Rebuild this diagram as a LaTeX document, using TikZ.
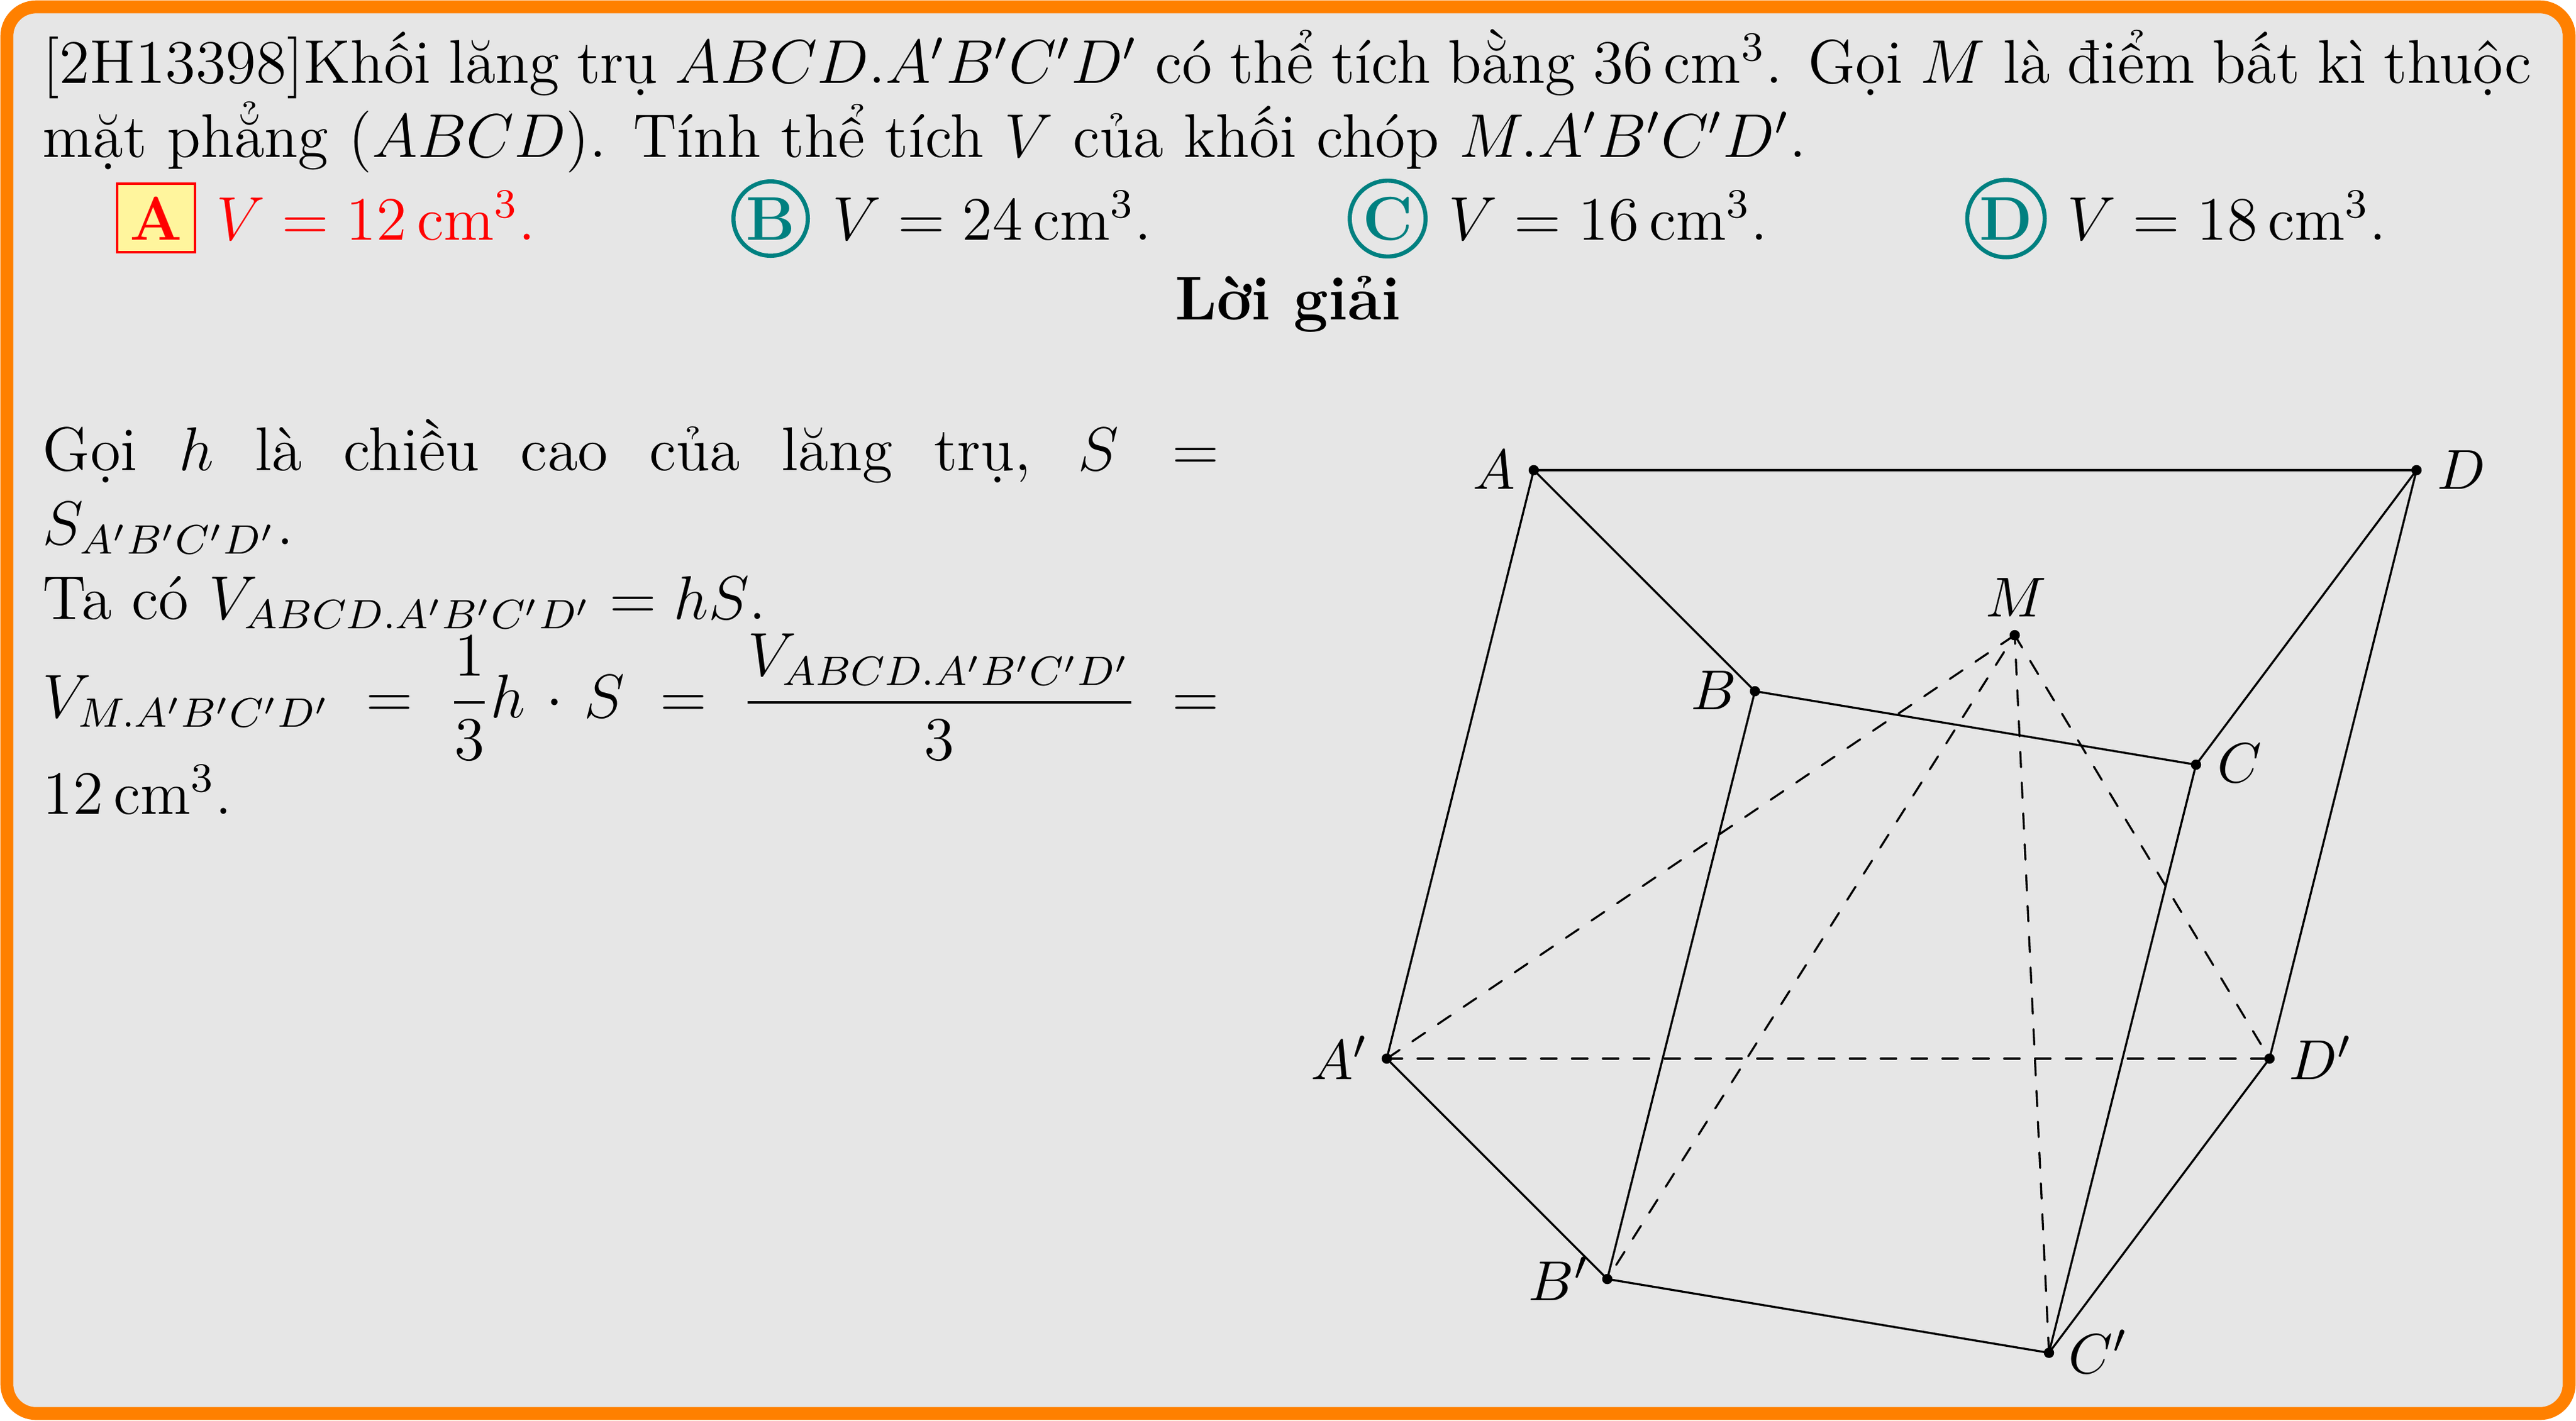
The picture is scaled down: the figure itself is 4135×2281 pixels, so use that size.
\documentclass[tikz,border=0pt,12pt]{standalone}
\usepackage{amsmath}
\definecolor{frameorange}{HTML}{FF8000}
\definecolor{panelgray}{HTML}{E6E6E6}
\definecolor{tealc}{HTML}{008080}
\definecolor{yellowbox}{HTML}{FFF59D}
\newcommand{\cmc}{\,\mathrm{cm}^3}
\begin{document}
\begin{tikzpicture}[x=0.12108pt,y=-0.12108pt,
  txt/.style={inner sep=0pt,outer sep=0pt,anchor=base west},
  lab/.style={inner sep=0pt,outer sep=0pt,font=\small,anchor=base},
  ptdot/.style={circle,fill=black,inner sep=0pt,minimum size=2pt},
  edge/.style={line width=0.4pt,black,line cap=round},
  hidden/.style={line width=0.4pt,black,line cap=round,dash pattern=on 3pt off 3pt},
  gapfirst/.style={hidden,dash phase=2.75pt},
  tealcirc/.style={circle,draw=tealc,line width=0.8pt,text=tealc,font=\bfseries,inner sep=0.65pt,anchor=base},
  ansbox/.style={draw=red,fill=yellowbox,line width=0.5pt,text=red,font=\bfseries,inner sep=0pt,minimum width=15.13pt,minimum height=13.3pt,anchor=base},
  title/.style={inner sep=0pt,outer sep=0pt,anchor=base,font=\bfseries}]
\useasboundingbox (0,0) rectangle (4135,2281);
\path[fill=white] (0,0) rectangle (4135,2281);
\draw[line width=2.5pt,draw=frameorange,fill=panelgray,rounded corners=5.7pt] (11,11) rectangle (4124,2270);
\node[txt] (q) at (69,133) {\parbox[t]{483.7pt}{[2H13398]Khối lăng trụ $ABCD.A'B'C'D'$ có thể tích bằng $36\cmc$. Gọi $M$ là điểm bất kì thuộc mặt phẳng $(ABCD)$. Tính thể tích $V$ của khối chóp $M.A'B'C'D'$.}};
\node[ansbox] (a) at (250.5,385) {A};
\node[txt,text=red] (at) at (347,385) {$V=12\cmc$.};
\node[tealcirc] (b) at (1237,385) {B};
\node[txt] (bt) at (1336,385) {$V=24\cmc$.};
\node[tealcirc] (c) at (2227.5,385) {C};
\node[txt] (ct) at (2325,385) {$V=16\cmc$.};
\node[tealcirc] (d) at (3220,385) {D};
\node[txt] (dt) at (3318,385) {$V=18\cmc$.};
\node[title] (lg) at (2067.5,513) {Lời giải};
\node[txt] (sol) at (69,755) {\parbox[t]{228.6pt}{Gọi $h$ là chiều cao của lăng trụ, $S=S_{A'B'C'D'}$.\\
Ta có $V_{ABCD.A'B'C'D'}=hS$.\\
$V_{M.A'B'C'D'}=\dfrac{1}{3}h\cdot S=\dfrac{V_{ABCD.A'B'C'D'}}{3}=12\cmc$.}};
\node[ptdot] (A) at (2462,755) {};
\node[ptdot] (D) at (3879,755) {};
\node[ptdot] (B) at (2817,1110) {};
\node[ptdot] (C) at (3525,1228) {};
\node[ptdot] (A1) at (2226,1700) {};
\node[ptdot] (D1) at (3643,1700) {};
\node[ptdot] (B1) at (2580,2054) {};
\node[ptdot] (C1) at (3289,2172.5) {};
\node[ptdot] (M) at (3234,1020) {};
\draw[edge] (A.center)--(D.center);
\draw[edge] (D.center)--(C.center);
\draw[edge] (C.center)--(B.center);
\draw[edge] (B.center)--(A.center);
\draw[edge] (A.center)--(A1.center);
\draw[edge] (A1.center)--(B1.center);
\draw[edge] (B1.center)--(C1.center);
\draw[edge] (C1.center)--(D1.center);
\draw[edge] (D1.center)--(D.center);
\draw[edge] (B.center)--(B1.center);
\draw[edge] (C.center)--(C1.center);
\draw[hidden] (A1.center)--(D1.center);
\draw[hidden] (A1.center)--(M.center);
\draw[gapfirst] (B1.center)--(M.center);
\draw[hidden] (C1.center)--(M.center);
\draw[gapfirst] (D1.center)--(M.center);
\node[lab] (lA) at (2398,785) {$A$};
\node[lab] (lD) at (3951,785.5) {$D$};
\node[lab] (lB) at (2751,1139) {$B$};
\node[lab] (lC) at (3595,1256) {$C$};
\node[lab] (lA1) at (2150,1733) {$A'$};
\node[lab] (lD1) at (3725,1733) {$D'$};
\node[lab] (lB1) at (2502,2088) {$B'$};
\node[lab] (lC1) at (3368,2205) {$C'$};
\node[lab] (lM) at (3236,990) {$M$};
\end{tikzpicture}
\end{document}
